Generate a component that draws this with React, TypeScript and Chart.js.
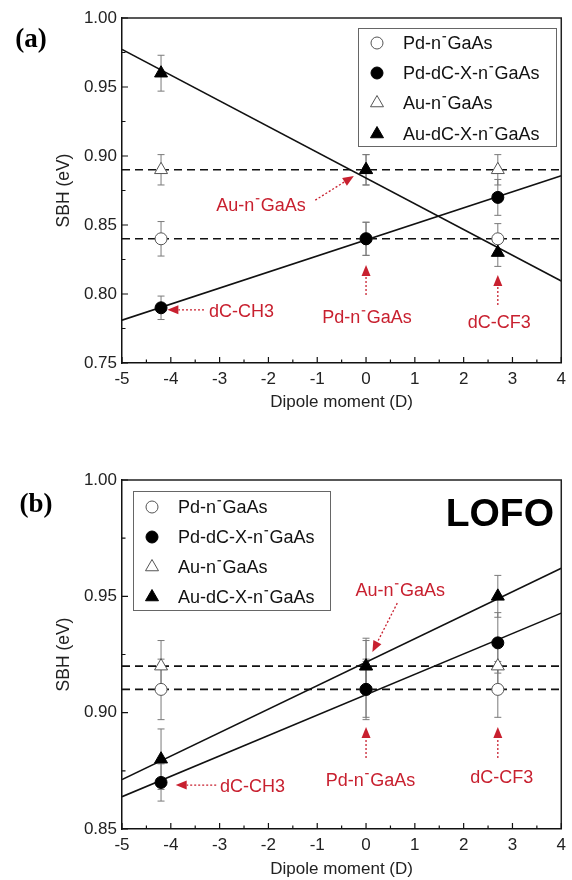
import React, { useEffect, useRef } from "react";
import { Chart, registerables } from "chart.js";
Chart.register(...registerables);

const FONT = "'Liberation Sans', Arial, sans-serif";
const RED = "#c8202f";

// ---------- data ----------
const dipoleX = [-4.2, 0, 2.7];
const xTicks = [-5, -4, -3, -2, -1, 0, 1, 2, 3, 4];

// panel (a)
const aPdRef = [0.84, 0.84, 0.84];
const aPdRefErr = [0.0125, 0.012, 0.011];
const aPdMod = [0.79, 0.84, 0.87];
const aPdModErr = [0.0085, 0.012, 0.013];
const aAuRef = [0.89, 0.89, 0.89];
const aAuRefErr = [0.011, 0.011, 0.011];
const aAuMod = [0.96, 0.89, 0.83];
const aAuModErr = [0.013, 0.011, 0.01];
const aYTicks = [0.75, 0.8, 0.85, 0.9, 0.95, 1.0];

// panel (b)
const bPdRef = [0.91, 0.91, 0.91];
const bPdRefErr = [0.013, 0.012, 0.012];
const bPdMod = [0.87, 0.91, 0.93];
const bPdModErr = [0.008, 0.013, 0.013];
const bAuRef = [0.92, 0.92, 0.92];
const bAuRefErr = [0.011, 0.011, 0.011];
const bAuMod = [0.88, 0.92, 0.95];
const bAuModErr = [0.013, 0.012, 0.009];
const bYTicks = [0.85, 0.9, 0.95, 1.0];

const seriesNames = ["Pd-n⁻GaAs", "Pd-dC-X-n⁻GaAs", "Au-n⁻GaAs", "Au-dC-X-n⁻GaAs"];

// annotations in data coordinates
const aAnnots = [
  { text: "Au-n⁻GaAs", tx: -2.15, ty: 0.8645, align: "center", x0: -1.04, y0: 0.868, x1: -0.25, y1: 0.8855 },
  { text: "dC-CH3", tx: -3.22, ty: 0.7877, align: "left", x0: -3.32, y0: 0.7885, x1: -4.07, y1: 0.7885 },
  { text: "Pd-n⁻GaAs", tx: 0.02, ty: 0.7833, align: "center", x0: 0, y0: 0.7993, x1: 0, y1: 0.821 },
  { text: "dC-CF3", tx: 2.73, ty: 0.7797, align: "center", x0: 2.7, y0: 0.792, x1: 2.7, y1: 0.8138 },
];
const bAnnots = [
  { text: "Au-n⁻GaAs", tx: 0.7, ty: 0.9527, align: "center", x0: 0.64, y0: 0.9471, x1: 0.13, y1: 0.9261 },
  { text: "Pd-n⁻GaAs", tx: 0.09, ty: 0.8711, align: "center", x0: 0, y0: 0.8805, x1: 0, y1: 0.8938 },
  { text: "dC-CF3", tx: 2.78, ty: 0.8724, align: "center", x0: 2.7, y0: 0.8805, x1: 2.7, y1: 0.8938 },
  { text: "dC-CH3", tx: -2.99, ty: 0.8685, align: "left", x0: -3.07, y0: 0.8689, x1: -3.9, y1: 0.8689 },
];

// ---------- helpers ----------
function linFit(xs: number[], ys: number[]) {
  const n = xs.length;
  const mx = xs.reduce((a, b) => a + b, 0) / n;
  const my = ys.reduce((a, b) => a + b, 0) / n;
  let sxy = 0, sxx = 0;
  for (let i = 0; i < n; i++) {
    sxy += (xs[i] - mx) * (ys[i] - my);
    sxx += (xs[i] - mx) * (xs[i] - mx);
  }
  const m = sxy / sxx;
  return (x: number) => my + m * (x - mx);
}

function drawRich(ctx: CanvasRenderingContext2D, text: string, x: number, y: number, align: string, size: number, color: string, weight = "normal") {
  ctx.save();
  ctx.font = `${weight} ${size}px ${FONT}`;
  ctx.fillStyle = color;
  const parts = text.split("⁻");
  const barW = size * 0.2, gap = size * 0.08;
  const supAdv = barW + 2 * gap;
  const widths = parts.map((p) => ctx.measureText(p).width);
  const total = widths.reduce((a, b) => a + b, 0) + supAdv * (parts.length - 1);
  let cx = align === "center" ? x - total / 2 : align === "right" ? x - total : x;
  ctx.textAlign = "left";
  ctx.textBaseline = "alphabetic";
  const base = y + size * 0.358;
  parts.forEach((p, i) => {
    ctx.fillText(p, cx, base);
    cx += widths[i];
    if (i < parts.length - 1) {
      ctx.fillRect(cx + gap, base - size * 0.74, barW, Math.max(1, size * 0.07));
      cx += supAdv;
    }
  });
  ctx.restore();
}

function drawMarker(ctx: CanvasRenderingContext2D, style: string, filled: boolean, x: number, y: number, r: number) {
  ctx.save();
  ctx.beginPath();
  if (style === "circle") {
    ctx.arc(x, y, r, 0, Math.PI * 2);
  } else {
    let rad = 0;
    ctx.moveTo(x + Math.sin(rad) * r, y - Math.cos(rad) * r);
    rad += (Math.PI * 2) / 3;
    ctx.lineTo(x + Math.sin(rad) * r, y - Math.cos(rad) * r);
    rad += (Math.PI * 2) / 3;
    ctx.lineTo(x + Math.sin(rad) * r, y - Math.cos(rad) * r);
    ctx.closePath();
  }
  ctx.fillStyle = filled ? "#000" : "#fff";
  ctx.fill();
  ctx.lineWidth = 1;
  ctx.strokeStyle = filled ? "#000" : "#555";
  ctx.stroke();
  ctx.restore();
}

type PanelCfg = {
  pdRef: number[]; pdRefErr: number[]; pdMod: number[]; pdModErr: number[];
  auRef: number[]; auRefErr: number[]; auMod: number[]; auModErr: number[];
  yTicks: number[]; yMin: number; yMax: number;
  padTop: number; xAxisHeight: number; xTitlePad: number;
  annots: any[];
  legend: { x: number; y: number; w: number; h: number; rows: number[] };
  panelLabel: { text: string; x: number; y: number };
  lofo?: { x: number; y: number };
};

const panelA: PanelCfg = {
  pdRef: aPdRef, pdRefErr: aPdRefErr, pdMod: aPdMod, pdModErr: aPdModErr,
  auRef: aAuRef, auRefErr: aAuRefErr, auMod: aAuMod, auModErr: aAuModErr,
  yTicks: aYTicks, yMin: 0.75, yMax: 1.0,
  padTop: 18, xAxisHeight: 77, xTitlePad: 27,
  annots: aAnnots,
  legend: { x: 358, y: 28, w: 198, h: 118, rows: [15, 45, 75, 106] },
  panelLabel: { text: "(a)", x: 31, y: 40 },
};

const panelB: PanelCfg = {
  pdRef: bPdRef, pdRefErr: bPdRefErr, pdMod: bPdMod, pdModErr: bPdModErr,
  auRef: bAuRef, auRefErr: bAuRefErr, auMod: bAuMod, auModErr: bAuModErr,
  yTicks: bYTicks, yMin: 0.85, yMax: 1.0,
  padTop: 40, xAxisHeight: 51, xTitlePad: 0,
  annots: bAnnots,
  legend: { x: 133, y: 51, w: 197, h: 119, rows: [16, 46, 76, 106] },
  panelLabel: { text: "(b)", x: 36, y: 65 },
  lofo: { x: 554, y: 72 },
};

function buildChart(canvas: HTMLCanvasElement, cfg: PanelCfg) {
  const pts = (ys: number[]) => dipoleX.map((x, i) => ({ x, y: ys[i] }));
  const xMin = xTicks[0], xMax = xTicks[xTicks.length - 1];
  const fitPd = linFit(dipoleX, cfg.pdMod);
  const fitAu = linFit(dipoleX, cfg.auMod);
  const refPd = cfg.pdRef.reduce((a, b) => a + b, 0) / cfg.pdRef.length;
  const refAu = cfg.auRef.reduce((a, b) => a + b, 0) / cfg.auRef.length;

  const markerSeries = [
    { name: seriesNames[3], ys: cfg.auMod, err: cfg.auModErr, style: "triangle", filled: true },
    { name: seriesNames[1], ys: cfg.pdMod, err: cfg.pdModErr, style: "circle", filled: true },
    { name: seriesNames[2], ys: cfg.auRef, err: cfg.auRefErr, style: "triangle", filled: false },
    { name: seriesNames[0], ys: cfg.pdRef, err: cfg.pdRefErr, style: "circle", filled: false },
  ];
  const legendSeries = [markerSeries[3], markerSeries[1], markerSeries[2], markerSeries[0]];

  const datasets: any[] = markerSeries.map((s) => ({
    label: s.name,
    data: pts(s.ys),
    showLine: false,
    pointStyle: s.style,
    pointRadius: s.style === "circle" ? 6 : 7.5,
    backgroundColor: s.filled ? "#000" : "#fff",
    borderColor: s.filled ? "#000" : "#555",
    borderWidth: 1,
  }));
  const lineDs = (data: any[], dash: number[]) => ({
    data, showLine: true, pointRadius: 0, borderColor: "#111", borderWidth: 1.6, borderDash: dash, fill: false,
  });
  datasets.push(lineDs([{ x: xMin, y: refAu }, { x: xMax, y: refAu }], [8, 5]));
  datasets.push(lineDs([{ x: xMin, y: refPd }, { x: xMax, y: refPd }], [8, 5]));
  datasets.push(lineDs([{ x: xMin, y: fitPd(xMin) }, { x: xMax, y: fitPd(xMax) }], []));
  datasets.push(lineDs([{ x: xMin, y: fitAu(xMin) }, { x: xMax, y: fitAu(xMax) }], []));

  const errPlugin = {
    id: "errbars",
    beforeDatasetsDraw(chart: any) {
      const ctx = chart.ctx, xs = chart.scales.x, ys = chart.scales.y;
      ctx.save();
      ctx.strokeStyle = "#7a7a7a";
      ctx.lineWidth = 1;
      markerSeries.forEach((s) => {
        dipoleX.forEach((x, i) => {
          const px = xs.getPixelForValue(x);
          const p1 = ys.getPixelForValue(s.ys[i] + s.err[i]);
          const p2 = ys.getPixelForValue(s.ys[i] - s.err[i]);
          ctx.beginPath();
          ctx.moveTo(px, p1); ctx.lineTo(px, p2);
          ctx.moveTo(px - 3.5, p1); ctx.lineTo(px + 3.5, p1);
          ctx.moveTo(px - 3.5, p2); ctx.lineTo(px + 3.5, p2);
          ctx.stroke();
        });
      });
      ctx.restore();
    },
  };

  const decoPlugin = {
    id: "deco",
    afterDraw(chart: any) {
      const ctx = chart.ctx as CanvasRenderingContext2D;
      const xs = chart.scales.x, ys = chart.scales.y;
      const { left, right, top, bottom } = chart.chartArea;
      ctx.save();
      // frame
      ctx.strokeStyle = "#222";
      ctx.lineWidth = 1.5;
      ctx.beginPath();
      ctx.moveTo(left, top); ctx.lineTo(right, top); ctx.lineTo(right, bottom);
      ctx.stroke();
      // inward ticks
      ctx.lineWidth = 1.2;
      ctx.strokeStyle = "#111";
      ctx.beginPath();
      xTicks.forEach((v, i) => {
        const px = xs.getPixelForValue(v);
        ctx.moveTo(px, bottom); ctx.lineTo(px, bottom - 6);
        if (i < xTicks.length - 1) {
          const pm = xs.getPixelForValue((v + xTicks[i + 1]) / 2);
          ctx.moveTo(pm, bottom); ctx.lineTo(pm, bottom - 3.5);
        }
      });
      cfg.yTicks.forEach((v, i) => {
        const py = ys.getPixelForValue(v);
        ctx.moveTo(left, py); ctx.lineTo(left + 6, py);
        if (i < cfg.yTicks.length - 1) {
          const pm = ys.getPixelForValue((v + cfg.yTicks[i + 1]) / 2);
          ctx.moveTo(left, pm); ctx.lineTo(left + 3.5, pm);
        }
      });
      ctx.stroke();

      // annotations
      cfg.annots.forEach((a) => {
        const x0 = xs.getPixelForValue(a.x0), y0 = ys.getPixelForValue(a.y0);
        const x1 = xs.getPixelForValue(a.x1), y1 = ys.getPixelForValue(a.y1);
        const dx = x1 - x0, dy = y1 - y0, len = Math.hypot(dx, dy);
        const ux = dx / len, uy = dy / len;
        const hl = 11, hw = 4.5;
        const bx = x1 - ux * hl, by = y1 - uy * hl;
        ctx.save();
        ctx.strokeStyle = RED;
        ctx.lineWidth = 1.3;
        ctx.setLineDash([2, 2]);
        ctx.beginPath();
        ctx.moveTo(x0, y0); ctx.lineTo(bx, by);
        ctx.stroke();
        ctx.setLineDash([]);
        ctx.fillStyle = RED;
        ctx.beginPath();
        ctx.moveTo(x1, y1);
        ctx.lineTo(bx - uy * hw, by + ux * hw);
        ctx.lineTo(bx + uy * hw, by - ux * hw);
        ctx.closePath();
        ctx.fill();
        ctx.restore();
        drawRich(ctx, a.text, xs.getPixelForValue(a.tx), ys.getPixelForValue(a.ty), a.align, 18, RED);
      });

      // legend
      const L = cfg.legend;
      ctx.fillStyle = "#fff";
      ctx.fillRect(L.x, L.y, L.w, L.h);
      ctx.strokeStyle = "#666";
      ctx.lineWidth = 1;
      ctx.strokeRect(L.x + 0.5, L.y + 0.5, L.w, L.h);
      legendSeries.forEach((s, i) => {
        const cy = L.y + L.rows[i];
        drawMarker(ctx, s.style, s.filled, L.x + 19, cy, s.style === "circle" ? 6 : 7.5);
        drawRich(ctx, s.name, L.x + 45, cy, "left", 18, "#111");
      });

      // panel label
      ctx.fillStyle = "#000";
      ctx.font = "bold 27px 'Liberation Serif', 'Times New Roman', serif";
      ctx.textAlign = "center";
      ctx.textBaseline = "middle";
      ctx.fillText(cfg.panelLabel.text, cfg.panelLabel.x, cfg.panelLabel.y);
      if (cfg.lofo) {
        drawRich(ctx, "LOFO", cfg.lofo.x, cfg.lofo.y, "right", 39, "#000", "bold");
      }
      ctx.restore();
    },
  };

  return new Chart(canvas, {
    type: "scatter",
    data: { datasets },
    options: {
      animation: false,
      responsive: false,
      events: [],
      layout: { padding: { left: 0, top: cfg.padTop, right: 5, bottom: 0 } },
      plugins: { legend: { display: false }, tooltip: { enabled: false } },
      scales: {
        x: {
          type: "linear",
          min: xMin,
          max: xMax,
          afterBuildTicks: (s: any) => { s.ticks = xTicks.map((v) => ({ value: v })); },
          afterFit: (s: any) => { s.height = cfg.xAxisHeight; },
          grid: { display: false, drawTicks: false },
          border: { display: true, color: "#111", width: 1.5 },
          ticks: {
            autoSkip: false, maxRotation: 0, padding: 6, color: "#222",
            font: { family: FONT, size: 17 },
            callback: (v: any) => String(Math.round(Number(v))),
          },
          title: {
            display: true, text: "Dipole moment (D)", color: "#222",
            font: { family: FONT, size: 17 }, padding: { top: 0, bottom: cfg.xTitlePad },
          },
        },
        y: {
          type: "linear",
          min: cfg.yMin,
          max: cfg.yMax,
          afterBuildTicks: (s: any) => { s.ticks = cfg.yTicks.map((v) => ({ value: v })); },
          afterFit: (s: any) => { s.width = 122; },
          grid: { display: false, drawTicks: false },
          border: { display: true, color: "#111", width: 1.5 },
          ticks: {
            autoSkip: false, padding: 5, color: "#222",
            font: { family: FONT, size: 17 },
            callback: (v: any) => Number(v).toFixed(2),
          },
          title: {
            display: true, text: "SBH (eV)", color: "#222",
            font: { family: FONT, size: 17.5 }, padding: { top: 54, bottom: 0 },
          },
        },
      },
    },
    plugins: [errPlugin, decoPlugin],
  } as any);
}

function Panel({ cfg, top }: { cfg: PanelCfg; top: number }) {
  const ref = useRef<HTMLCanvasElement>(null);
  useEffect(() => {
    const chart = buildChart(ref.current as HTMLCanvasElement, cfg);
    return () => chart.destroy();
  }, []);
  return (
    <canvas
      ref={ref}
      width={572}
      height={440}
      style={{ position: "absolute", left: 0, top, width: 572, height: 440 }}
    />
  );
}

export default function App() {
  return (
    <div style={{ position: "absolute", left: 0, top: 0, width: 572, height: 880, background: "#fff" }}>
      <Panel cfg={panelA} top={0} />
      <Panel cfg={panelB} top={440} />
    </div>
  );
}
